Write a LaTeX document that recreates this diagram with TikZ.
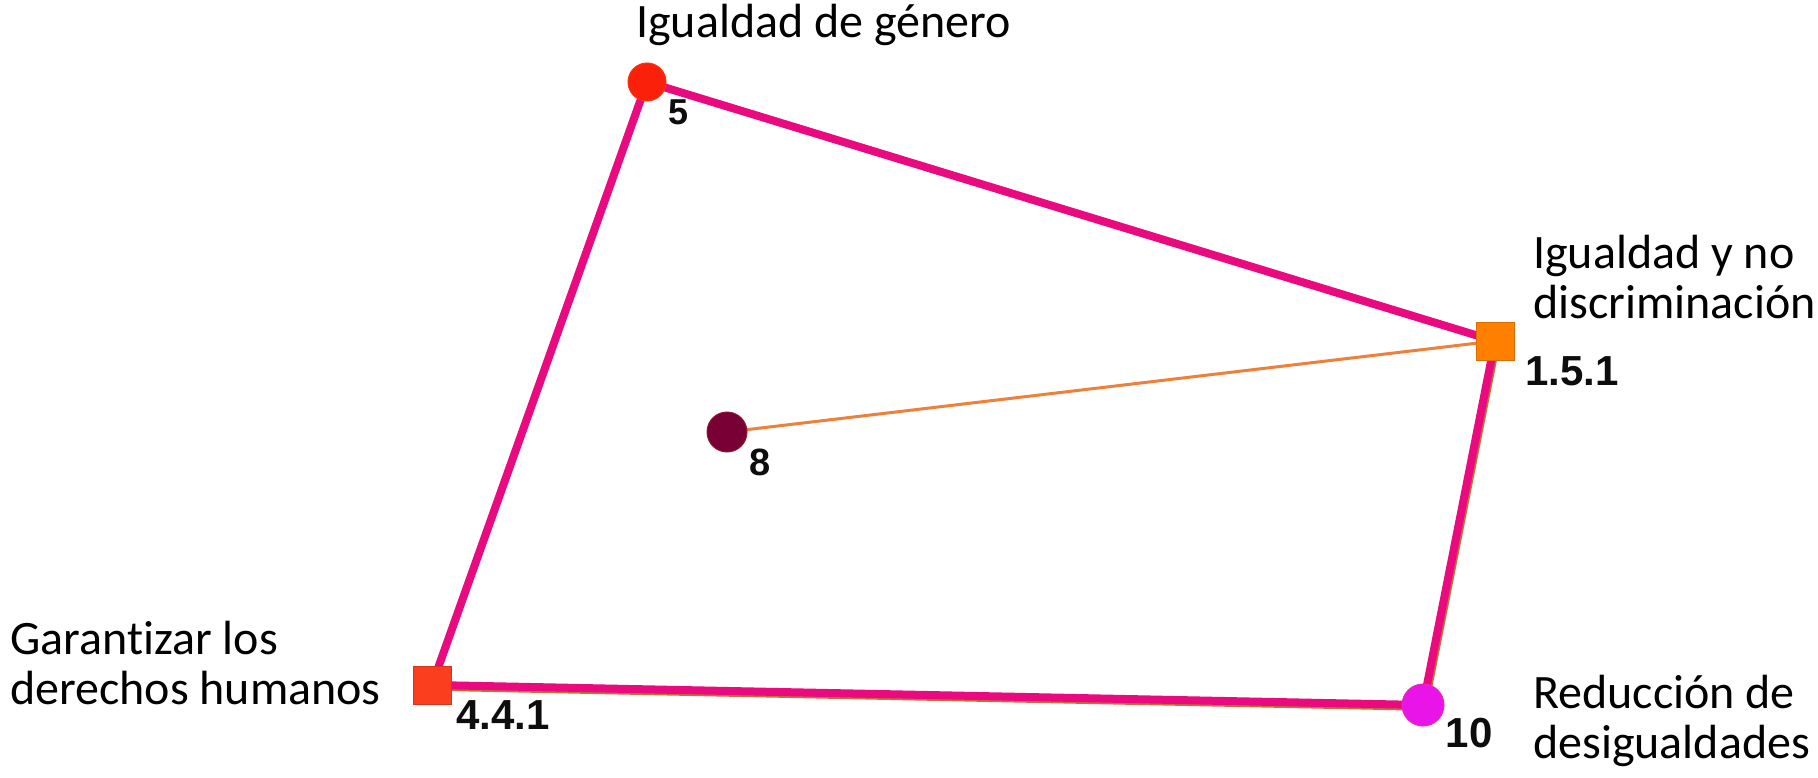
\documentclass[tikz,border=0pt]{standalone}
\usepackage{fontspec}
\setmainfont{Carlito}[Ligatures=NoCommon]
\newfontfamily\numfont{Liberation Sans}
\definecolor{pinkline}{RGB}{232,10,126}
\definecolor{orangeline}{RGB}{238,128,60}
\definecolor{cred}{RGB}{250,32,10}
\definecolor{corange}{RGB}{255,128,0}
\definecolor{cmaroon}{RGB}{120,0,52}
\definecolor{credsq}{RGB}{250,62,30}
\definecolor{cmagenta}{RGB}{232,20,232}
\tikzset{
  pinkedge/.style={draw=pinkline,line width=8pt},
  orangeedge/.style={draw=orangeline,line width=3pt},
  shadowedge/.style={draw=orangeline!85!black,line width=2.5pt},
  dotnode/.style={circle,inner sep=0pt,minimum size=38pt,draw=#1!80!orange,line width=1pt,fill=#1},
  sqnode/.style={rectangle,inner sep=0pt,minimum size=38pt,draw=#1!85!black,line width=0.8pt,fill=#1},
  numlabel/.style={font=\numfont\bfseries\fontsize{42}{46}\selectfont,text=black!95,inner sep=0pt},
  title/.style={font=\fontsize{48}{50}\selectfont,align=left,inner sep=0pt,anchor=base west}
}
\begin{document}
\begin{tikzpicture}[x=1pt,y=-1pt]
\useasboundingbox[fill=white] (0,0) rectangle (1818,778);
% node positions
\coordinate (p5) at (647,82);
\coordinate (p151) at (1495,341);
\coordinate (p8) at (727,432);
\coordinate (p441) at (432,685);
\coordinate (p10) at (1423,705);
% thin orange lines
\draw[orangeedge] (p8) -- (p151);
\draw[shadowedge] ([xshift=4.5pt]p151) -- ([xshift=4.5pt]p10);
\draw[shadowedge] ([yshift=-4.5pt]p441) -- ([yshift=-4.5pt]p10);
% pink edges
\draw[pinkedge] (p5) -- (p151);
\draw[pinkedge] (p151) -- (p10);
\draw[pinkedge] (p10) -- (p441);
\draw[pinkedge] (p441) -- (p5);
% nodes
\node[dotnode=cred] (n5) at (p5) {};
\node[sqnode=corange] (n151) at (p151) {};
\node[dotnode=cmaroon,minimum size=40pt] (n8) at (p8) {};
\node[sqnode=credsq] (n441) at (p441) {};
\node[dotnode=cmagenta,minimum size=42pt] (n10) at (p10) {};
% number labels
\node[numlabel,font=\numfont\bfseries\fontsize{36}{40}\selectfont] (l5) at (679,112) {5};
\node[numlabel,font=\numfont\bfseries\fontsize{38}{42}\selectfont] (l8) at (760,462) {8};
\node[numlabel] (l151) at (1572,371) {1.5.1};
\node[numlabel] (l441) at (503,715) {4.4.1};
\node[numlabel] (l10) at (1469,733) {10};
% titles
\node[title] (t5) at (636,38) {Igualdad de género};
\node[title] (t151) at (1533,318) {Igualdad y no\\discriminación};
\node[title] (t441) at (10,704) {Garantizar los\\derechos humanos};
\node[title] (t10) at (1533,758) {Reducción de\\desigualdades};
\end{tikzpicture}
\end{document}
